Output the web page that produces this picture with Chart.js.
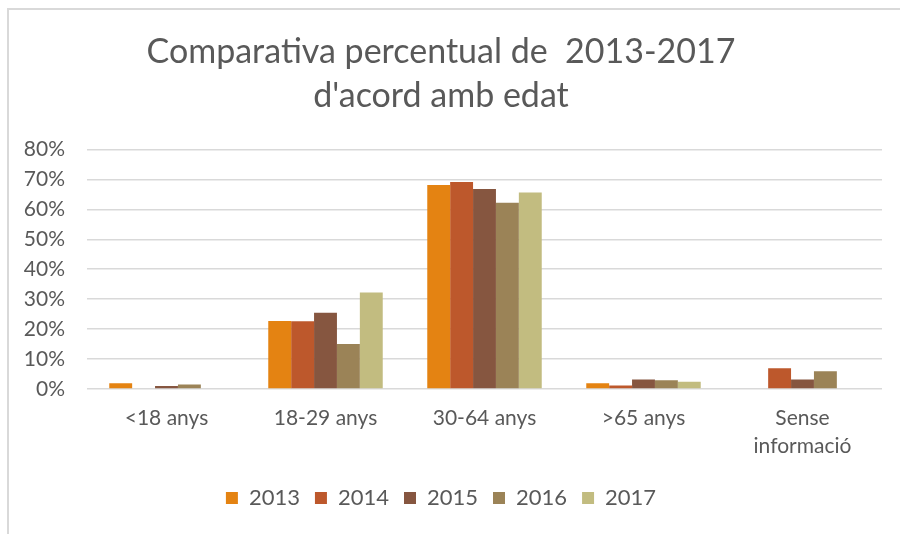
<!DOCTYPE html>
<html>
<head>
<meta charset="utf-8">
<script src="https://cdn.jsdelivr.net/npm/chart.js@4.4.0/dist/chart.umd.min.js"></script>
<style>
  html, body { margin: 0; padding: 0; background: #fff; }
  #wrap { position: relative; width: 900px; height: 534px; overflow: hidden; }
  #frame { position: absolute; left: 7px; top: 8px; width: 900px; height: 540px;
           border-left: 2px solid #d9d9d9; border-top: 2px solid #d9d9d9; }
  #chart { position: absolute; left: 0; top: 0; }
</style>
</head>
<body>
<div id="wrap">
  <div id="frame"></div>
  <canvas id="chart" width="900" height="534"></canvas>
</div>
<script>
const ageGroups = ['<18 anys', '18-29 anys', '30-64 anys', '>65 anys', ['Sense', 'informació']];
const years = ['2013', '2014', '2015', '2016', '2017'];
const yearColors = ['#E48312', '#BD582C', '#865640', '#9B8357', '#C2BC80'];

// percentages per year, same order as ageGroups
const values2013 = [1.9, 22.7, 68.1, 1.9, 0];
const values2014 = [0, 22.6, 69.1, 1.2, 6.9];
const values2015 = [1.0, 25.5, 66.8, 3.2, 3.2];
const values2016 = [1.5, 15.0, 62.2, 2.9, 5.9];
const values2017 = [0, 32.2, 65.6, 2.4, 0];
const yearValues = [values2013, values2014, values2015, values2016, values2017];

const textColor = '#595959';
const fontFamily = 'Lato, "Open Sans", sans-serif';

const ctx = document.getElementById('chart');
new Chart(ctx, {
    type: 'bar',
    data: {
        labels: ageGroups,
        datasets: years.map((year, i) => ({
            label: year,
            data: yearValues[i],
            backgroundColor: yearColors[i],
            borderWidth: 0,
            barPercentage: 1,
            categoryPercentage: 0.72,
        }))
    },
    options: {
        responsive: false,
        animation: false,
        layout: {
            padding: { left: 0, right: 18, top: 0, bottom: 15 }
        },
        scales: {
            y: {
                min: 0,
                max: 80,
                ticks: {
                    stepSize: 10,
                    padding: 22,
                    color: textColor,
                    font: { family: fontFamily, size: 21 },
                    callback: (v) => v + '%'
                },
                grid: { color: '#d9d9d9', lineWidth: 1.5, drawTicks: false },
                border: { display: false },
                afterFit: (scale) => { scale.width = 87; }
            },
            x: {
                ticks: {
                    padding: 15,
                    color: textColor,
                    font: { family: fontFamily, size: 21, lineHeight: 1.35 },
                    maxRotation: 0,
                    autoSkip: false
                },
                grid: { display: false, drawTicks: false },
                border: { display: false },
                afterFit: (scale) => { scale.height = 83; }
            }
        },
        plugins: {
            title: {
                display: true,
                text: ['Comparativa percentual de  2013-2017', "d'acord amb edat"],
                color: textColor,
                font: { family: fontFamily, size: 34, weight: 'normal', lineHeight: 1.3 },
                padding: { top: 30, bottom: 31 }
            },
            legend: {
                position: 'bottom',
                labels: {
                    color: textColor,
                    font: { family: fontFamily, size: 22 },
                    boxWidth: 12,
                    boxHeight: 12,
                    padding: 15
                }
            },
            tooltip: { enabled: false }
        }
    }
});
</script>
</body>
</html>
